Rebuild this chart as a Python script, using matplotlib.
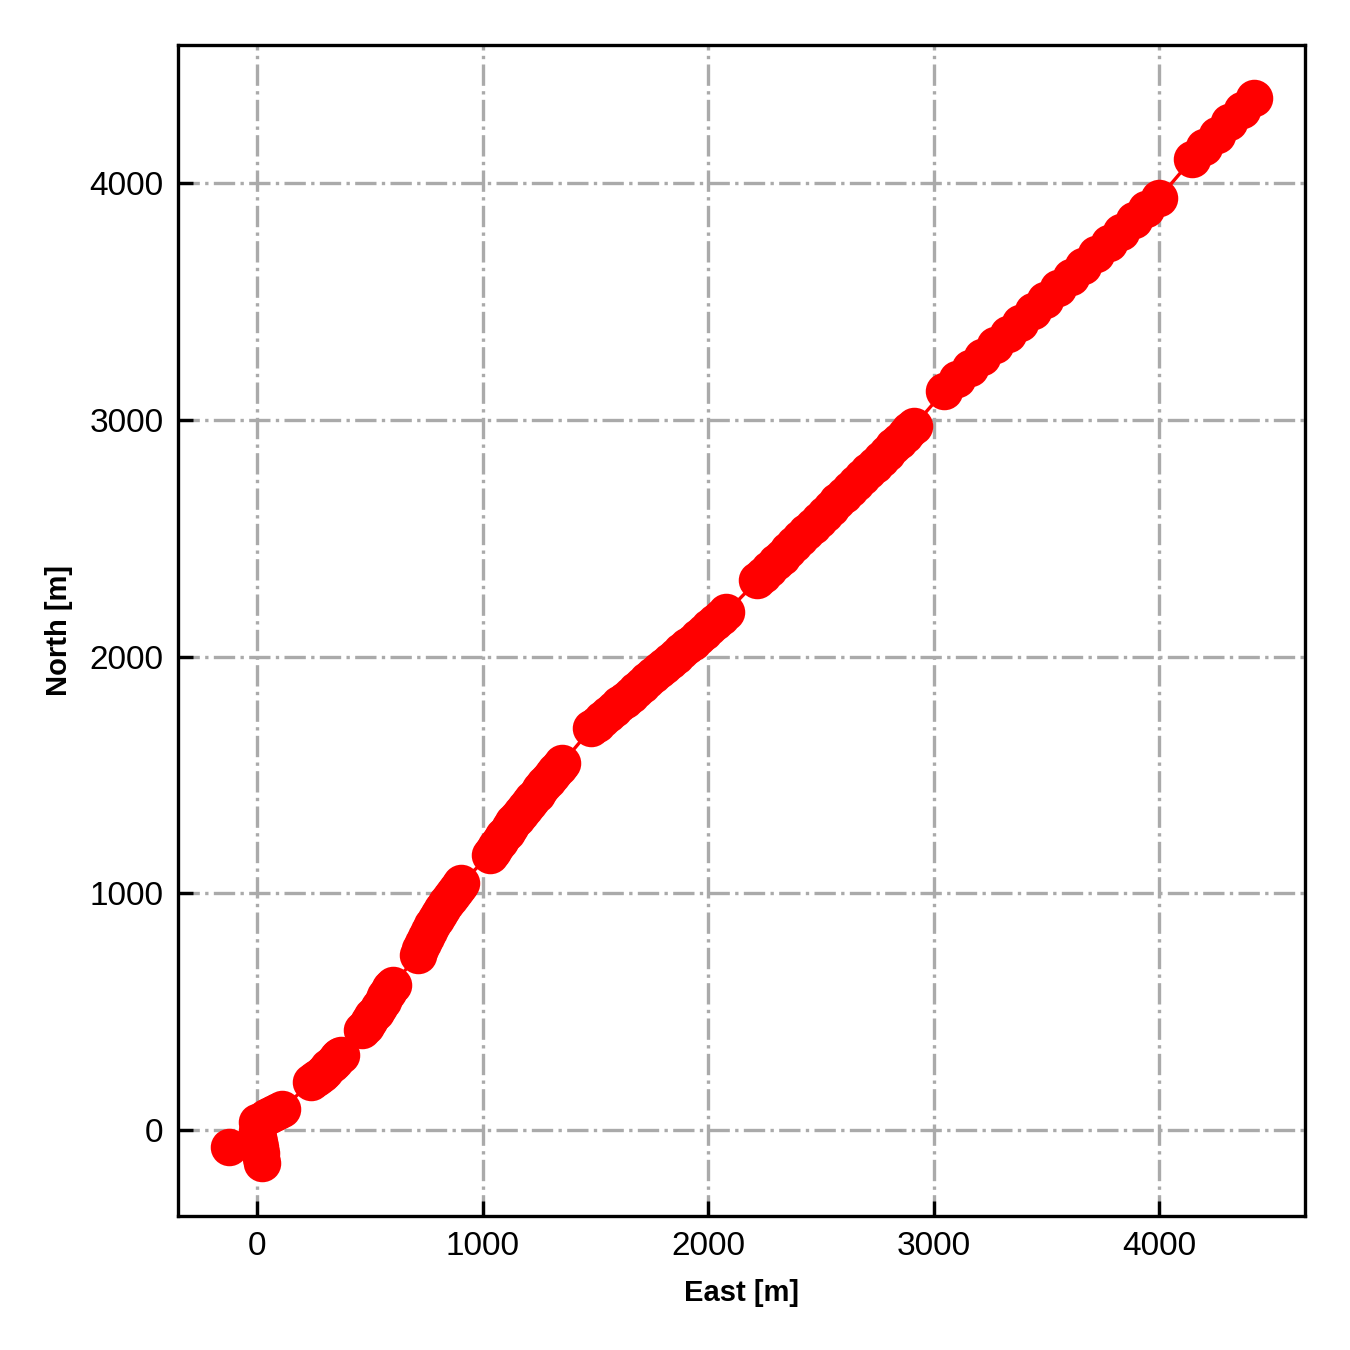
import matplotlib
matplotlib.use("Agg")
import matplotlib.pyplot as plt

plt.rcParams['font.family'] = ['Liberation Sans', 'DejaVu Sans']

# trajectory samples (gaps = missing samples)
east = [-124, 22, 18, 14, 10, 6, 3, 0, 0, 20, 40, 58, 75, 93, 111,
        239, 255, 270, 285, 300, 315, 330, 343, 355, 364, 372,
        466, 480, 495, 510, 525, 540, 555, 568, 580, 590, 600,
        712, 722, 735, 747, 760, 775, 790, 805, 820, 838, 855, 868, 880, 893, 905,
        1030, 1045, 1060, 1075, 1090, 1105, 1120, 1135, 1150, 1168, 1185, 1203, 1220,
        1238, 1255, 1273, 1290, 1305, 1320, 1336, 1352,
        1481, 1505, 1530, 1555, 1580, 1605, 1630, 1655, 1680, 1705, 1730, 1755, 1780,
        1805, 1830, 1855, 1880, 1905, 1930, 1955, 1980, 2005, 2030, 2055, 2080,
        2217, 2243, 2270, 2298, 2325, 2352, 2380, 2408, 2435, 2462, 2490, 2518, 2545,
        2572, 2600, 2628, 2655, 2682, 2710, 2738, 2765, 2792, 2820, 2845, 2870, 2892, 2913,
        3047, 3103, 3159, 3215, 3271, 3327, 3383, 3439, 3495, 3551, 3607, 3663, 3719,
        3775, 3831, 3887, 3943, 4000,
        4146, 4200, 4255, 4310, 4365, 4421]
north = [-72, -139, -117, -95, -72, -50, -27, -5, 35, 45, 55, 63, 72, 81, 90,
         203, 214, 225, 237, 250, 265, 280, 293, 305, 312, 318,
         422, 441, 460, 480, 500, 522, 545, 565, 585, 599, 612,
         740, 765, 790, 815, 840, 865, 890, 912, 935, 958, 980, 998, 1015, 1030, 1045,
         1160, 1180, 1200, 1220, 1240, 1260, 1280, 1300, 1320, 1340, 1360, 1380, 1400,
         1420, 1440, 1460, 1480, 1498, 1515, 1533, 1550,
         1696, 1716, 1736, 1757, 1777, 1798, 1818, 1839, 1859, 1880, 1900, 1921, 1941,
         1961, 1981, 2002, 2022, 2043, 2063, 2084, 2104, 2125, 2145, 2166, 2186,
         2321, 2346, 2371, 2397, 2422, 2448, 2474, 2500, 2526, 2551, 2577, 2603, 2629,
         2655, 2681, 2707, 2732, 2758, 2784, 2810, 2836, 2861, 2887, 2911, 2934, 2955, 2975,
         3122, 3170, 3218, 3266, 3314, 3362, 3410, 3458, 3506, 3554, 3602, 3650, 3698,
         3746, 3794, 3842, 3890, 3937,
         4101, 4152, 4203, 4255, 4306, 4359]

fig = plt.figure(figsize=(4.5, 4.5), dpi=300)
ax = fig.add_subplot(111)
fig.subplots_adjust(left=0.132, right=0.967, bottom=0.099, top=0.967)

ax.plot(east, north, '-o', color='#ff0000', lw=0.8, markersize=8, zorder=3)

ax.grid(True, linestyle='-.', color='#aaaaaa', linewidth=0.8)
ax.set_axisbelow(True)
ax.tick_params(direction='in', labelsize=8, top=False, right=False)
ax.set_xlabel('East [m]', fontsize=7, fontweight='bold')
ax.set_ylabel('North [m]', fontsize=7, fontweight='bold')
ax.set_xticks([0, 1000, 2000, 3000, 4000])
ax.set_yticks([0, 1000, 2000, 3000, 4000])

fig.savefig('out.png', dpi=300)
